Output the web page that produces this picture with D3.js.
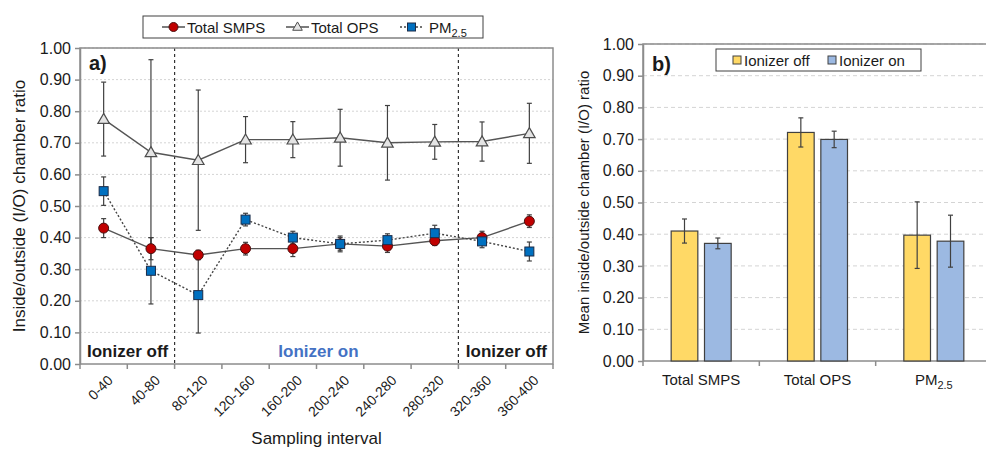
<!DOCTYPE html>
<html>
<head>
<meta charset="utf-8">
<script src="https://cdn.jsdelivr.net/npm/d3@7"></script>
<style>
  body { margin: 0; background: #fff; }
  svg { font-family: "Liberation Sans", Arial, sans-serif; }
</style>
</head>
<body>
<svg width="986" height="450"></svg>
<script>
// ---- data, panel a)
var intervals = ["0-40","40-80","80-120","120-160","160-200","200-240","240-280","280-320","320-360","360-400"];
var smps    = [0.43, 0.365, 0.345, 0.365, 0.365, 0.38, 0.373, 0.39, 0.40, 0.452];
var smpsErr = [0.03, 0.035, 0.015, 0.02, 0.025, 0.02, 0.02, 0.015, 0.02, 0.02];
var ops     = [0.775, 0.67, 0.645, 0.71, 0.71, 0.716, 0.70, 0.703, 0.704, 0.73];
var opsErr  = [0.117, 0.293, 0.222, 0.073, 0.057, 0.09, 0.118, 0.055, 0.062, 0.095];
var pm      = [0.547, 0.295, 0.218, 0.457, 0.40, 0.38, 0.392, 0.414, 0.388, 0.356];
var pmErr   = [0.045, 0.105, 0.12, 0.02, 0.02, 0.025, 0.02, 0.025, 0.02, 0.03];
var yTicks  = [0,0.1,0.2,0.3,0.4,0.5,0.6,0.7,0.8,0.9,1.0];

// ---- data, panel b)
var groups   = ["Total SMPS","Total OPS","PM2.5"];
var offVals  = [0.41, 0.721, 0.397];
var offErr   = [0.038, 0.046, 0.105];
var onVals   = [0.371, 0.699, 0.378];
var onErr    = [0.017, 0.026, 0.082];
var states   = ["Ionizer off","Ionizer on"];

var svg = d3.select("svg");
var axisCol = "#8c8c8c", errCol = "#404040", txtCol = "#1a1a1a";
var fmt = d3.format(".2f");

// ================= panel a =================
var L = {left: 80, right: 553, top: 48, bottom: 364};
var xa = d3.scaleBand().domain(intervals).range([L.left, L.right]);
var ya = d3.scaleLinear().domain([0,1]).range([L.bottom, L.top]);
var cx = function(i){ return xa(intervals[i]) + xa.bandwidth()/2; };

var ga = svg.append("g");

// grid
ga.selectAll(".grid").data(yTicks.slice(1)).enter().append("line")
  .attr("x1", L.left).attr("x2", L.right)
  .attr("y1", d=>ya(d)).attr("y2", d=>ya(d))
  .attr("stroke", "#d4d4d4").attr("stroke-width", 1).attr("stroke-dasharray", "2,2");

// phase separators
[intervals[2], intervals[8]].forEach(function(k){
  ga.append("line").attr("x1", xa(k)).attr("x2", xa(k))
    .attr("y1", L.top).attr("y2", L.bottom)
    .attr("stroke", "#333").attr("stroke-width", 1.2).attr("stroke-dasharray", "3,3");
});

// box + axes
ga.append("rect").attr("x", L.left).attr("y", L.top)
  .attr("width", L.right-L.left).attr("height", L.bottom-L.top)
  .attr("fill", "none").attr("stroke", axisCol).attr("stroke-width", 1.5);

var yAxA = ga.append("g").attr("transform", "translate("+L.left+",0)")
  .call(d3.axisLeft(ya).tickValues(yTicks).tickFormat(fmt).tickSize(5).tickSizeOuter(0));
var xEdges = intervals.map(d=>xa(d)).concat([L.right]);
ga.selectAll(".xt").data(xEdges).enter().append("line")
  .attr("x1", d=>d).attr("x2", d=>d).attr("y1", L.bottom).attr("y2", L.bottom+5)
  .attr("stroke", axisCol).attr("stroke-width", 1.5);

ga.selectAll(".xl").data(intervals).enter().append("text")
  .attr("transform", (d,i)=>"translate("+(cx(i)+3)+","+(L.bottom+10)+") rotate(-45)")
  .attr("text-anchor", "end").attr("dy", "0.72em")
  .attr("font-size", 14).attr("fill", txtCol).text(d=>d);

// series lines
function seriesLine(vals, dash, col){
  ga.append("path").datum(vals)
    .attr("d", d3.line().x((d,i)=>cx(i)).y(d=>ya(d)))
    .attr("fill", "none").attr("stroke", col).attr("stroke-width", 1.4)
    .attr("stroke-dasharray", dash);
}
function errBars(vals, errs){
  vals.forEach(function(v,i){
    var g = ga.append("g").attr("stroke", errCol).attr("stroke-width", 1.2);
    g.append("line").attr("x1", cx(i)).attr("x2", cx(i)).attr("y1", ya(v+errs[i])).attr("y2", ya(v-errs[i]));
    [v+errs[i], v-errs[i]].forEach(function(e){
      g.append("line").attr("x1", cx(i)-2.5).attr("x2", cx(i)+2.5).attr("y1", ya(e)).attr("y2", ya(e));
    });
  });
}
seriesLine(ops, null, "#555");
seriesLine(smps, null, "#555");
seriesLine(pm, "2,2", "#444");
errBars(ops, opsErr);
errBars(smps, smpsErr);
errBars(pm, pmErr);

var tri = d3.symbol().type(d3.symbolTriangle).size(58);
ga.selectAll(".tri").data(ops).enter().append("path")
  .attr("d", tri).attr("transform", (d,i)=>"translate("+cx(i)+","+(ya(d)+1)+")")
  .attr("fill", "#e4e4e4").attr("stroke", "#4d4d4d").attr("stroke-width", 1.2);
ga.selectAll(".circ").data(smps).enter().append("circle")
  .attr("cx", (d,i)=>cx(i)).attr("cy", d=>ya(d)).attr("r", 5)
  .attr("fill", "#c00000").attr("stroke", "#4a1010").attr("stroke-width", 1);
ga.selectAll(".sq").data(pm).enter().append("rect")
  .attr("x", (d,i)=>cx(i)-4.5).attr("y", d=>ya(d)-4.5).attr("width", 9).attr("height", 9)
  .attr("fill", "#0070c0").attr("stroke", "#1c2c48").attr("stroke-width", 1);

// phase labels
ga.append("text").attr("x", L.left+7).attr("y", 357).attr("font-size", 17).attr("font-weight", "bold")
  .attr("fill", txtCol).text("Ionizer off");
ga.append("text").attr("x", (xa(intervals[2])+xa(intervals[8]))/2+2).attr("y", 357)
  .attr("text-anchor", "middle").attr("font-size", 17).attr("font-weight", "bold")
  .attr("fill", "#4472c4").text("Ionizer on");
ga.append("text").attr("x", L.right-6).attr("y", 357).attr("text-anchor", "end")
  .attr("font-size", 17).attr("font-weight", "bold").attr("fill", txtCol).text("Ionizer off");

ga.append("text").attr("x", 89).attr("y", 70).attr("font-size", 20).attr("font-weight", "bold")
  .attr("fill", txtCol).text("a)");

// titles
ga.append("text").attr("transform", "translate(25,"+((L.top+L.bottom)/2)+") rotate(-90)")
  .attr("text-anchor", "middle").attr("font-size", 17).attr("fill", txtCol)
  .text("Inside/outside (I/O) chamber ratio");
ga.append("text").attr("x", (L.left+L.right)/2).attr("y", 444).attr("text-anchor", "middle")
  .attr("font-size", 17).attr("fill", txtCol).text("Sampling interval");

// legend a
var la = ga.append("g");
la.append("rect").attr("x", 143).attr("y", 16).attr("width", 340).attr("height", 22)
  .attr("fill", "#fff").attr("stroke", "#404040").attr("stroke-width", 1);
function legLine(x, dash){
  la.append("line").attr("x1", x).attr("x2", x+23).attr("y1", 27).attr("y2", 27)
    .attr("stroke", "#444").attr("stroke-width", 1.4).attr("stroke-dasharray", dash);
}
legLine(162, null);
la.append("circle").attr("cx", 173.5).attr("cy", 27).attr("r", 4.5)
  .attr("fill", "#c00000").attr("stroke", "#4a1010");
la.append("text").attr("x", 187).attr("y", 32.5).attr("font-size", 15).attr("fill", txtCol).text("Total SMPS");
legLine(286, null);
la.append("path").attr("d", d3.symbol().type(d3.symbolTriangle).size(40))
  .attr("transform", "translate(297.5,27.5)").attr("fill", "#e4e4e4").attr("stroke", "#4d4d4d");
la.append("text").attr("x", 311).attr("y", 32.5).attr("font-size", 15).attr("fill", txtCol).text("Total OPS");
legLine(400, "2,2");
la.append("rect").attr("x", 407.5).attr("y", 23).attr("width", 8).attr("height", 8)
  .attr("fill", "#0070c0").attr("stroke", "#1c2c48");
var pmT = la.append("text").attr("x", 429).attr("y", 32.5).attr("font-size", 15).attr("fill", txtCol);
pmT.append("tspan").text("PM");
pmT.append("tspan").attr("font-size", 11).attr("dy", 4).text("2.5");

// ================= panel b =================
var R = {left: 643, right: 992, top: 44, bottom: 361};
var xb = d3.scaleBand().domain(groups).range([R.left, R.right]);
var xs = d3.scaleBand().domain(states)
  .range([xb.bandwidth()/2-30, xb.bandwidth()/2+30]).paddingInner(0.2);
var yb = d3.scaleLinear().domain([0,1]).range([R.bottom, R.top]);

var gb = svg.append("g");
gb.selectAll(".grid").data(yTicks.slice(1)).enter().append("line")
  .attr("x1", R.left).attr("x2", R.right)
  .attr("y1", d=>yb(d)).attr("y2", d=>yb(d))
  .attr("stroke", "#d4d4d4").attr("stroke-width", 1).attr("stroke-dasharray", "4,3");

gb.append("rect").attr("x", R.left).attr("y", R.top)
  .attr("width", R.right-R.left).attr("height", R.bottom-R.top)
  .attr("fill", "none").attr("stroke", axisCol).attr("stroke-width", 1.5);
var yAxB = gb.append("g").attr("transform", "translate("+R.left+",0)")
  .call(d3.axisLeft(yb).tickValues(yTicks).tickFormat(fmt).tickSize(5).tickSizeOuter(0));
var bEdges = groups.map(d=>xb(d)).concat([R.right]);
gb.selectAll(".xt").data(bEdges).enter().append("line")
  .attr("x1", d=>d).attr("x2", d=>d).attr("y1", R.bottom).attr("y2", R.bottom+5)
  .attr("stroke", axisCol).attr("stroke-width", 1.5);

var barData = [];
groups.forEach(function(g,i){
  barData.push({g:g, s:states[0], v:offVals[i], e:offErr[i], c:"#ffd966"});
  barData.push({g:g, s:states[1], v:onVals[i], e:onErr[i], c:"#9cb9e2"});
});
gb.selectAll(".bar").data(barData).enter().append("rect")
  .attr("x", d=>xb(d.g)+xs(d.s)).attr("width", xs.bandwidth())
  .attr("y", d=>yb(d.v)).attr("height", d=>R.bottom-yb(d.v))
  .attr("fill", d=>d.c).attr("stroke", "#404040").attr("stroke-width", 1.2);
barData.forEach(function(d){
  var x = xb(d.g)+xs(d.s)+xs.bandwidth()/2;
  var g = gb.append("g").attr("stroke", errCol).attr("stroke-width", 1.2);
  g.append("line").attr("x1", x).attr("x2", x).attr("y1", yb(d.v+d.e)).attr("y2", yb(d.v-d.e));
  [d.v+d.e, d.v-d.e].forEach(function(e){
    g.append("line").attr("x1", x-2.5).attr("x2", x+2.5).attr("y1", yb(e)).attr("y2", yb(e));
  });
});

gb.selectAll(".gl").data(groups).enter().append("text")
  .attr("x", d=>xb(d)+xb.bandwidth()/2).attr("y", 385).attr("text-anchor", "middle")
  .attr("font-size", 15).attr("fill", txtCol)
  .each(function(d){
    var t = d3.select(this);
    if (d === "PM2.5") {
      t.append("tspan").text("PM");
      t.append("tspan").attr("font-size", 11).attr("dy", 4).text("2.5");
    } else t.text(d);
  });

gb.append("text").attr("x", 652).attr("y", 71).attr("font-size", 20).attr("font-weight", "bold")
  .attr("fill", txtCol).text("b)");
gb.append("text").attr("transform", "translate(589,"+((R.top+R.bottom)/2)+") rotate(-90)")
  .attr("text-anchor", "middle").attr("font-size", 15).attr("fill", txtCol)
  .text("Mean inside/outside chamber (I/O) ratio");

// legend b
var lb = gb.append("g");
lb.append("rect").attr("x", 716).attr("y", 49).attr("width", 205).attr("height", 22)
  .attr("fill", "#fff").attr("stroke", "#404040").attr("stroke-width", 1);
[[733, "#ffd966", states[0]], [828, "#9cb9e2", states[1]]].forEach(function(s){
  lb.append("rect").attr("x", s[0]).attr("y", 56).attr("width", 8).attr("height", 8)
    .attr("fill", s[1]).attr("stroke", "#404040");
  lb.append("text").attr("x", s[0]+11).attr("y", 65.5).attr("font-size", 15)
    .attr("fill", txtCol).text(s[2]);
});

// axis styling
[yAxA, yAxB].forEach(function(a){
  a.select(".domain").attr("stroke", axisCol).attr("stroke-width", 1.5);
  a.selectAll(".tick line").attr("stroke", axisCol).attr("stroke-width", 1.5);
  a.selectAll(".tick text").attr("font-size", 16).attr("font-family", "Liberation Sans, Arial, sans-serif")
    .attr("fill", txtCol).attr("x", -9);
});
</script>
</body>
</html>
